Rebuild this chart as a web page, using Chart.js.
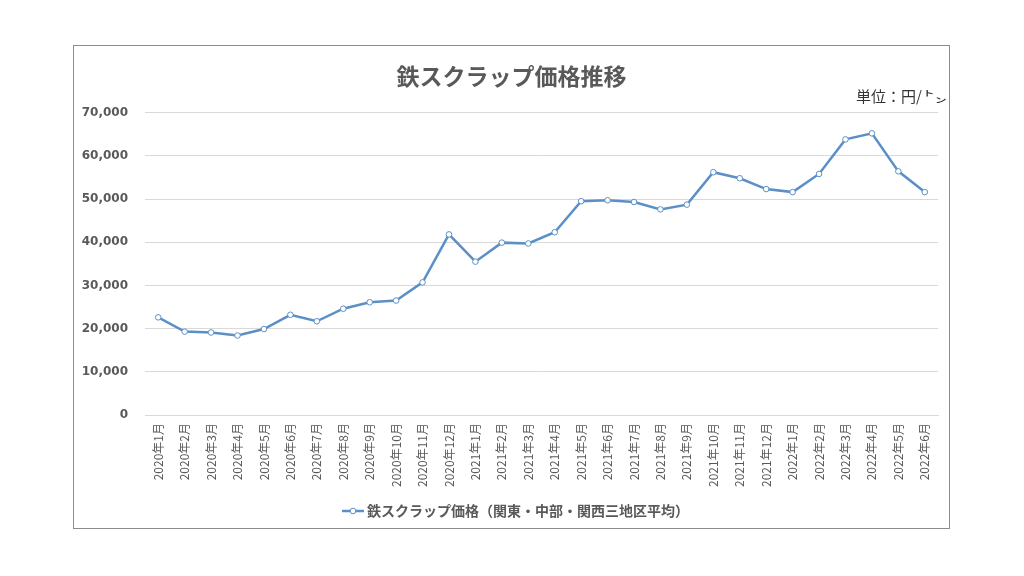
<!DOCTYPE html>
<html>
<head>
<meta charset="utf-8">
<script src="https://cdn.jsdelivr.net/npm/chart.js@4"></script>
<style>
  html, body { margin: 0; padding: 0; background: #fff; }
  #box {
    position: absolute; left: 73px; top: 45px; width: 877px; height: 484px;
    border: 1px solid #8c8c8c; box-sizing: border-box; background: #fff;
  }
  #box canvas { display: block; }
</style>
</head>
<body>
<div id="box"><canvas id="lineChart" width="875" height="482"></canvas></div>
<script>
const months = [
  '2020年1月', '2020年2月', '2020年3月', '2020年4月', '2020年5月', '2020年6月',
  '2020年7月', '2020年8月', '2020年9月', '2020年10月', '2020年11月', '2020年12月',
  '2021年1月', '2021年2月', '2021年3月', '2021年4月', '2021年5月', '2021年6月',
  '2021年7月', '2021年8月', '2021年9月', '2021年10月', '2021年11月', '2021年12月',
  '2022年1月', '2022年2月', '2022年3月', '2022年4月', '2022年5月', '2022年6月'
];
const prices = [
  22600, 19300, 19100, 18400, 19900, 23200,
  21700, 24600, 26100, 26500, 30700, 41800,
  35500, 39900, 39700, 42300, 49500, 49700,
  49300, 47600, 48700, 56200, 54800, 52300,
  51600, 55800, 63800, 65200, 56400, 51600
];
const seriesName = '鉄スクラップ価格（関東・中部・関西三地区平均）';
const titleText = '鉄スクラップ価格推移';
const unitMain = '単位：円/';
const unitTon = '㌧';

const lineColor = '#5b8fc7';
const jp = '"Noto Sans CJK JP", "Noto Sans", sans-serif';

// legend marker: line with a small open circle (drawn on the right part of the image)
const marker = document.createElement('canvas');
marker.width = 34; marker.height = 8;
const mctx = marker.getContext('2d');
mctx.strokeStyle = lineColor;
mctx.lineWidth = 2.5;
mctx.beginPath(); mctx.moveTo(12, 4); mctx.lineTo(34, 4); mctx.stroke();
mctx.fillStyle = '#fff';
mctx.lineWidth = 1;
mctx.beginPath(); mctx.arc(23, 4, 2.8, 0, Math.PI * 2); mctx.fill(); mctx.stroke();

// unit note top right; the ton sign is stretched a bit like the original
const unitLabel = {
  id: 'unitLabel',
  afterDraw(chart) {
    const c = chart.ctx;
    c.save();
    c.font = '15px ' + jp;
    c.fillStyle = '#333';
    c.textBaseline = 'middle';
    const right = chart.width - 2;
    const tonW = c.measureText(unitTon).width * 1.6;
    c.textAlign = 'right';
    c.fillText(unitMain, right - tonW - 1, 50);
    c.translate(right - tonW, 50);
    c.scale(1.6, 1);
    c.textAlign = 'left';
    c.fillText(unitTon, 0, 0);
    c.restore();
  }
};

const ctx = document.getElementById('lineChart');

new Chart(ctx, {
  type: 'line',
  data: {
    labels: months,
    datasets: [{
      label: seriesName,
      data: prices,
      borderColor: lineColor,
      borderWidth: 2.5,
      pointRadius: 2.8,
      pointBorderWidth: 1,
      pointBackgroundColor: '#fff',
      pointBorderColor: lineColor,
      pointStyle: 'circle',
      tension: 0
    }]
  },
  options: {
    responsive: false,
    animation: false,
    layout: { padding: { top: 16, right: 0, left: 0, bottom: 0 } },
    scales: {
      x: {
        offset: true,
        afterFit(scale) { scale.height = 79; },
        grid: { display: false, drawTicks: false },
        border: { color: '#d9d9d9' },
        ticks: {
          minRotation: 90, maxRotation: 90, autoSkip: false, padding: 8,
          color: '#595959', font: { family: jp, size: 12 }
        }
      },
      y: {
        min: 0, max: 70000,
        afterFit(scale) { scale.width = 71; },
        grid: { color: '#d9d9d9', drawTicks: false },
        border: { display: false },
        ticks: {
          stepSize: 10000, padding: 17,
          color: '#595959',
          font: { family: '"DejaVu Sans", sans-serif', size: 12, weight: 'bold' },
          callback: v => v.toLocaleString('en-US')
        }
      },
      // empty spacer on the right so the plot stops short of the frame
      spacer: {
        position: 'right',
        afterFit(scale) { scale.width = 11; },
        grid: { display: false, drawTicks: false },
        border: { display: false },
        ticks: { display: false }
      }
    },
    plugins: {
      title: {
        display: true,
        text: titleText,
        color: '#595959',
        font: { family: jp, size: 23, weight: 'bold' },
        padding: { top: 0, bottom: 23 }
      },
      legend: {
        position: 'bottom',
        labels: {
          usePointStyle: true,
          pointStyleWidth: 26,
          color: '#595959',
          font: { family: jp, size: 14, weight: 'bold' },
          padding: 10,
          generateLabels(chart) {
            const items = Chart.defaults.plugins.legend.labels.generateLabels(chart);
            items.forEach(it => { it.pointStyle = marker; });
            return items;
          }
        }
      },
      tooltip: { enabled: false }
    }
  },
  plugins: [unitLabel]
});
</script>
</body>
</html>
